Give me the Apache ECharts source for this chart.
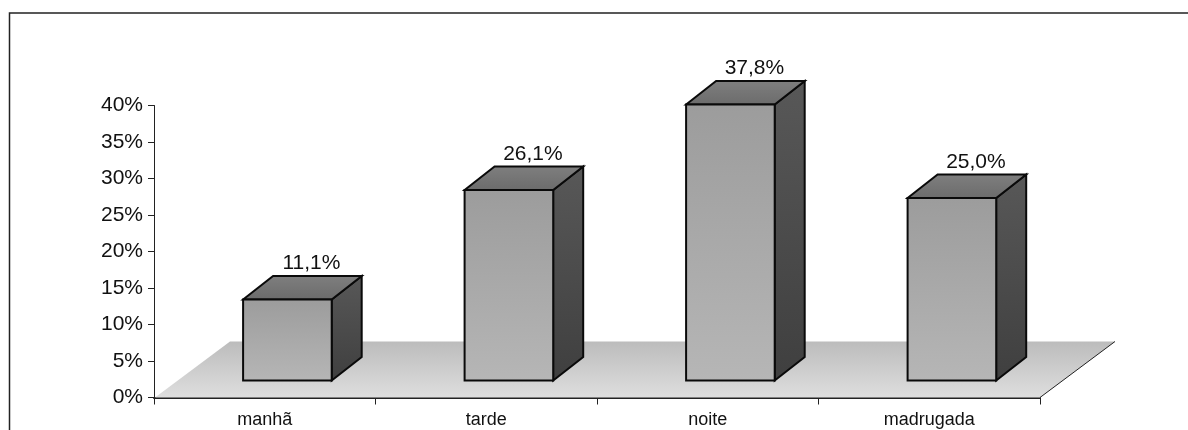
<!DOCTYPE html>
<html><head><meta charset="utf-8">
<style>html,body{margin:0;padding:0;background:#fff}#c{width:1188px;height:430px}</style>
<script src="https://cdn.jsdelivr.net/npm/echarts@6/dist/echarts.min.js"></script>
</head><body><div id="c"></div>
<script>
const categories = ['manhã','tarde','noite','madrugada'];
const values = [11.1,26.1,37.8,25.0];
const labels = ['11,1%','26,1%','37,8%','25,0%'];
const yTicks = [0,5,10,15,20,25,30,35,40];

const chart = echarts.init(document.getElementById('c'),null,{renderer:'canvas'});
const FONT='"Liberation Sans",Arial,sans-serif';
const LW=2, INK='#0a0a0a';
function grad(a,b){return new echarts.graphic.LinearGradient(0,0,0,1,[{offset:0,color:a},{offset:1,color:b}]);}

chart.setOption({
  animation:false,
  backgroundColor:'#fff',
  grid:{left:154,top:105.5,width:886,height:292,containLabel:false},
  xAxis:{type:'category',data:categories,boundaryGap:true,
    axisLine:{lineStyle:{color:'#222',width:2}},
    axisTick:{show:true,alignWithLabel:false,length:7,lineStyle:{color:'#222',width:1}},
    axisLabel:{color:'#111',fontFamily:FONT,fontSize:18,margin:14},
    splitLine:{show:false}},
  yAxis:{type:'value',min:yTicks[0],max:yTicks[yTicks.length-1],interval:5,
    axisLine:{show:true,lineStyle:{color:'#222',width:1}},
    axisTick:{show:true,length:6,lineStyle:{color:'#222',width:1}},
    axisLabel:{color:'#111',fontFamily:FONT,fontSize:21,margin:11,formatter:v=>v+'%'},
    splitLine:{show:false}},
  graphic:[{type:'polyline',silent:true,z:100,
    shape:{points:[[9.5,430],[9.5,13],[1188,13]]},
    style:{fill:'none',stroke:'#222',lineWidth:1.5}}],
  series:[
   {type:'custom',z:1,silent:true,clip:false,coordinateSystem:'cartesian2d',
    data:[[0,0]],
    renderItem(p,api){
      const s=p.coordSys, by=api.coord([0,0])[1];
      const lx=s.x, right=s.x+s.width, dx=75, dy=56;
      return {type:'group',children:[
        {type:'polygon',shape:{points:[[lx+1,by],[right,by],[right+dx,by-dy],[lx+dx+1,by-dy]]},
         style:{fill:grad('#bcbcbc','#dedede')}},
        {type:'line',shape:{x1:right,y1:by,x2:right+dx,y2:by-dy},style:{stroke:'#222',lineWidth:1}}
      ]};
    }},
   {type:'custom',z:2,clip:false,coordinateSystem:'cartesian2d',
    encode:{x:0,y:1},
    data:values.map((v,i)=>[i,v]),
    renderItem(p,api){
      const i=api.value(0), v=api.value(1);
      const base=api.coord([i,0]), top=api.coord([i,v]);
      const band=api.size([1,0])[0];
      const w=band*0.4, ox=band*0.1, oy=17, dx=30, dy=23.5;
      const x0=base[0]+ox-w/2+0.5, x1=x0+w, yb=base[1]-oy, yt=top[1]-oy;
      const ln={stroke:INK,lineWidth:LW,lineJoin:'miter'};
      return {type:'group',children:[
        {type:'polygon',shape:{points:[[x1,yb],[x1+dx,yb-dy],[x1+dx,yt-dy],[x1,yt]]},
         style:Object.assign({fill:grad('#585858','#3f3f3f')},ln)},
        {type:'polygon',shape:{points:[[x0,yt],[x0+dx,yt-dy],[x1+dx,yt-dy],[x1,yt]]},
         style:Object.assign({fill:grad('#7f7f7f','#6b6b6b')},ln)},
        {type:'rect',shape:{x:x0,y:yt,width:w,height:yb-yt},
         style:Object.assign({fill:grad('#9c9c9c','#b6b6b6')},ln)},
        {type:'text',style:{x:(x0+x1)/2+dx-6,y:yt-dy-2,text:labels[i],align:'center',verticalAlign:'bottom',
          fill:'#111',font:'21px '+FONT}}
      ]};
    }}
  ]
});
</script></body></html>
